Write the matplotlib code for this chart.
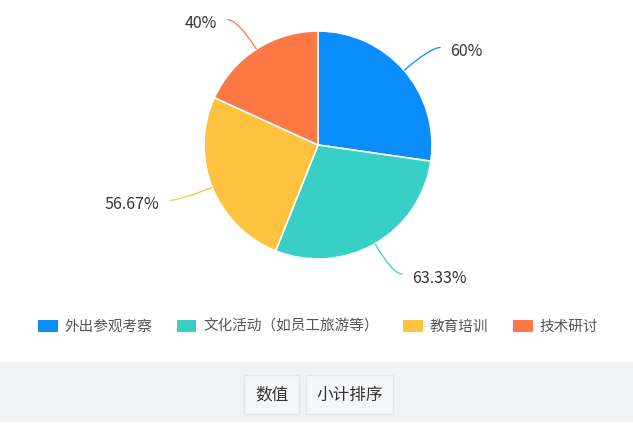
import numpy as np
import matplotlib
matplotlib.use('Agg')
import matplotlib.pyplot as plt
from matplotlib.patches import Rectangle, PathPatch
from matplotlib.path import Path

plt.rcParams['font.family'] = ['Noto Sans CJK SC', 'DejaVu Sans']

# data
categories = ['外出参观考察', '文化活动（如员工旅游等）', '教育培训', '技术研讨']
values = [60, 63.33, 56.67, 40]
labels = ['60%', '63.33%', '56.67%', '40%']
colors = ['#0a8cfb', '#38cfc7', '#fec23e', '#fe7846']
buttons = ['数值', '小计排序']

W, H = 633, 434
fig = plt.figure(figsize=(W / 100, H / 100), dpi=100)
ax = fig.add_axes([0, 0, 1, 1])
ax.set_xlim(0, W)
ax.set_ylim(0, H)
ax.set_aspect('equal')
ax.axis('off')

# ── Pie ───────────────────────────────────────────────────────
cx, cy, r = 318, H - 145, 114
wedges, _ = ax.pie(values, colors=colors, startangle=90, counterclock=False,
                   center=(cx, cy), radius=r, frame=True,
                   wedgeprops=dict(edgecolor='white', linewidth=1.2))
ax.set_xlim(0, W)
ax.set_ylim(0, H)
ax.axis('off')

# leader lines + labels
L1, L2 = 35, 10
for w, lab, col in zip(wedges, labels, colors):
    mid = np.deg2rad((w.theta1 + w.theta2) / 2)
    dx, dy = np.cos(mid), np.sin(mid)
    A = (cx + r * dx, cy + r * dy)
    B = (cx + (r + L1) * dx, cy + (r + L1) * dy)
    side = 1 if dx >= 0 else -1
    C = (B[0] + side * L2, B[1])
    path = Path([A, B, C], [Path.MOVETO, Path.CURVE3, Path.CURVE3])
    ax.add_patch(PathPatch(path, facecolor='none', edgecolor=col, lw=0.9))
    ax.text(C[0] + side * 10, C[1] - 4, lab, fontsize=11.5, color='#333333',
            ha='left' if side > 0 else 'right', va='center')

# ── Legend ────────────────────────────────────────────────────
leg = fig.legend(wedges, categories, loc='center', ncol=4,
                 bbox_to_anchor=(0.502, (H - 327) / H), frameon=False,
                 fontsize=10.5, handlelength=1.35, handleheight=0.85,
                 handletextpad=0.45, columnspacing=1.7, borderpad=0)
for t in leg.get_texts():
    t.set_color('#555555')
for h in leg.legend_handles:
    h.set_edgecolor('none')

# ── Bottom toolbar ────────────────────────────────────────────
ax.add_patch(Rectangle((0, H - 422), W, 60, facecolor='#f1f2f4',
                       edgecolor='none', zorder=0))
btn_boxes = [(244, 299), (306, 393)]
for (x0, x1), txt in zip(btn_boxes, buttons):
    ax.add_patch(Rectangle((x0, H - 414), x1 - x0, 39, facecolor='#f5f6f8',
                           edgecolor='#e3e5e8', lw=1, zorder=1))
    ax.text((x0 + x1) / 2, H - 395, txt, fontsize=12, color='#333333',
            ha='center', va='center', zorder=2)

fig.savefig('out.png', dpi=100)
